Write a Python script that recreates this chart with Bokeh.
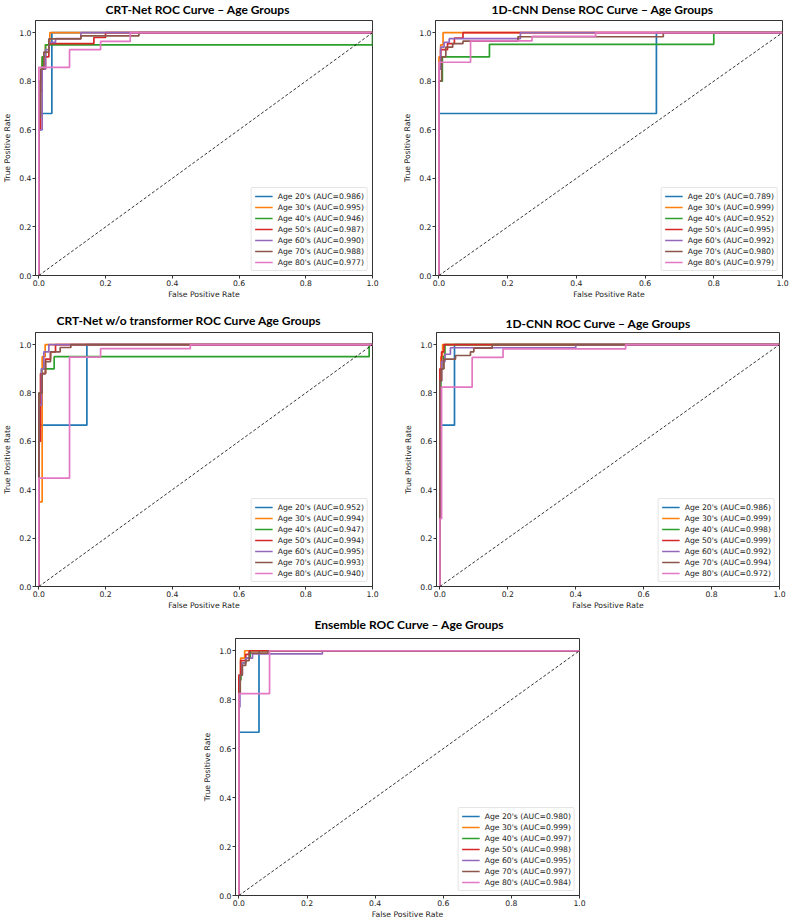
from bokeh.plotting import figure
from bokeh.layouts import column, row
from bokeh.models import (Spacer, Legend, LegendItem, FixedTicker, Range1d,
                          PrintfTickFormatter)
from bokeh.embed import file_html
from bokeh.resources import INLINE

AGE_GROUPS = ["20's", "30's", "40's", "50's", "60's", "70's", "80's"]
COLORS = ["#1f77b4", "#ff7f0e", "#2ca02c", "#d62728", "#9467bd", "#8c564b", "#e377c2"]
TICKS = [0.0, 0.2, 0.4, 0.6, 0.8, 1.0]
DIAG = [0.0, 1.0]

# ---- CRT-Net ----
CRT_TITLE = "CRT-Net ROC Curve – Age Groups"
CRT_AUC = [0.986, 0.995, 0.946, 0.987, 0.990, 0.988, 0.977]
CRT_FPR = [
    [0, 0, 0.039, 1],
    [0, 0, 0.01, 0.02, 0.033, 1],
    [0, 0, 0.004, 0.01, 0.02, 1.0],
    [0, 0, 0.005, 0.01, 0.02, 0.03, 0.165, 0.2, 1],
    [0, 0, 0.01, 0.02, 0.03, 0.05, 0.126, 1],
    [0, 0, 0.005, 0.015, 0.03, 0.126, 0.30, 1],
    [0, 0, 0.092, 0.185, 0.274, 1],
]
CRT_TPR = [
    [0, 0.667, 1.0, 1.0],
    [0, 0.8, 0.9, 0.95, 1.0, 1.0],
    [0, 0.75, 0.8, 0.9, 0.95, 1.0],
    [0, 0.6, 0.76, 0.85, 0.9, 0.955, 0.98, 1.0, 1.0],
    [0, 0.6, 0.85, 0.93, 0.96, 0.975, 1.0, 1.0],
    [0, 0.65, 0.85, 0.92, 0.974, 0.987, 1.0, 1.0],
    [0, 0.857, 0.93, 0.964, 1.0, 1.0],
]

# ---- 1D-CNN Dense ----
DENSE_TITLE = "1D-CNN Dense ROC Curve – Age Groups"
DENSE_AUC = [0.789, 0.999, 0.952, 0.995, 0.992, 0.980, 0.979]
DENSE_FPR = [
    [0, 0, 0.633, 1],
    [0, 0, 0.005, 0.012, 1],
    [0, 0, 0.01, 0.147, 0.80, 1],
    [0, 0, 0.005, 0.025, 0.045, 0.07, 1],
    [0, 0, 0.005, 0.015, 0.03, 0.237, 1],
    [0, 0, 0.008, 0.02, 0.04, 0.07, 0.23, 0.653, 1],
    [0, 0, 0.092, 0.271, 0.456, 1],
]
DENSE_TPR = [
    [0, 0.667, 1.0, 1.0],
    [0, 0.9, 0.95, 1.0, 1.0],
    [0, 0.8, 0.9, 0.952, 1.0, 1.0],
    [0, 0.85, 0.93, 0.955, 0.978, 1.0, 1.0],
    [0, 0.85, 0.94, 0.96, 0.975, 1.0, 1.0],
    [0, 0.8, 0.9, 0.94, 0.955, 0.965, 0.983, 1.0, 1.0],
    [0, 0.878, 0.966, 0.985, 1.0, 1.0],
]

# ---- CRT-Net w/o transformer ----
NOTR_TITLE = "CRT-Net w/o transformer ROC Curve  Age Groups"
NOTR_AUC = [0.952, 0.994, 0.947, 0.994, 0.995, 0.993, 0.940]
NOTR_FPR = [
    [0, 0, 0.144, 1],
    [0, 0, 0.01, 0.019, 1],
    [0, 0, 0.008, 0.046, 0.99, 1],
    [0, 0, 0.005, 0.02, 0.035, 0.05, 1],
    [0, 0, 0.008, 0.015, 0.03, 1],
    [0, 0, 0.01, 0.02, 0.035, 0.064, 0.096, 1],
    [0, 0, 0.092, 0.185, 0.454, 1],
]
NOTR_TPR = [
    [0, 0.667, 1.0, 1.0],
    [0, 0.35, 0.95, 1.0, 1.0],
    [0, 0.8, 0.9, 0.95, 1.0, 1.0],
    [0, 0.6, 0.88, 0.94, 0.97, 1.0, 1.0],
    [0, 0.75, 0.9, 0.97, 1.0, 1.0],
    [0, 0.8, 0.88, 0.93, 0.97, 0.988, 1.0, 1.0],
    [0, 0.448, 0.948, 0.983, 1.0, 1.0],
]

# ---- 1D-CNN ----
CNN_TITLE = "1D-CNN ROC Curve – Age Groups"
CNN_AUC = [0.986, 0.999, 0.998, 0.999, 0.992, 0.994, 0.972]
CNN_FPR = [
    [0, 0, 0.043, 1],
    [0, 0, 0.003, 0.008, 1],
    [0, 0, 0.003, 0.01, 0.015, 1],
    [0, 0, 0.005, 0.012, 1],
    [0, 0, 0.005, 0.015, 0.031, 0.40, 1],
    [0, 0, 0.005, 0.012, 0.046, 0.09, 0.1, 0.154, 1],
    [0, 0, 0.005, 0.095, 0.186, 0.547, 1],
]
CNN_TPR = [
    [0, 0.667, 1.0, 1.0],
    [0, 0.85, 0.95, 1.0, 1.0],
    [0, 0.75, 0.9, 0.95, 1.0, 1.0],
    [0, 0.9, 0.97, 1.0, 1.0],
    [0, 0.85, 0.93, 0.96, 0.987, 1.0, 1.0],
    [0, 0.85, 0.9, 0.94, 0.955, 0.97, 0.985, 1.0, 1.0],
    [0, 0.28, 0.824, 0.947, 0.982, 1.0, 1.0],
]

# ---- Ensemble ----
ENS_TITLE = "Ensemble ROC Curve – Age Groups"
ENS_AUC = [0.980, 0.999, 0.997, 0.998, 0.995, 0.997, 0.984]
ENS_FPR = [
    [0, 0, 0.059, 1],
    [0, 0, 0.005, 0.017, 1],
    [0, 0, 0.006, 0.02, 0.033, 1],
    [0, 0, 0.005, 0.02, 0.03, 1],
    [0, 0, 0.003, 0.01, 0.02, 0.04, 0.245, 1],
    [0, 0, 0.004, 0.01, 0.02, 0.03, 0.085, 1],
    [0, 0, 0.09, 1],
]
ENS_TPR = [
    [0, 0.667, 1.0, 1.0],
    [0, 0.9, 0.97, 1.0, 1.0],
    [0, 0.88, 0.95, 0.97, 1.0, 1.0],
    [0, 0.9, 0.96, 0.985, 1.0, 1.0],
    [0, 0.77, 0.9, 0.95, 0.97, 0.987, 1.0, 1.0],
    [0, 0.83, 0.9, 0.94, 0.96, 0.99, 1.0, 1.0],
    [0, 0.825, 1.0, 1.0],
]

AXIS_COLOR = "#333333"
TEXT_COLOR = "#222222"
SMALL = "7.7px"


def make_panel(title, fpr, tpr, auc, width, height, left, right, top, bottom,
               title_offset, title_standoff):
    p = figure(width=width, height=height,
               x_range=Range1d(-0.01, 1.0), y_range=Range1d(0.0, 1.05),
               output_backend="svg", toolbar_location=None,
               min_border_left=left, min_border_right=right,
               min_border_top=top, min_border_bottom=bottom)
    p.xgrid.visible = False
    p.ygrid.visible = False
    p.outline_line_color = AXIS_COLOR
    p.outline_line_width = 1
    p.background_fill_color = "white"
    p.border_fill_color = "white"

    p.title.text = title
    p.title.align = "left"
    p.title.offset = title_offset
    p.title.vertical_align = "top"
    p.title.standoff = title_standoff
    p.title.text_font = "Lato"
    p.title.text_font_size = "12px"
    p.title.text_font_style = "bold"
    p.title.text_color = "black"

    for ax in (p.xaxis[0], p.yaxis[0]):
        ax.ticker = FixedTicker(ticks=TICKS)
        ax.formatter = PrintfTickFormatter(format="%.1f")
        ax.axis_line_color = AXIS_COLOR
        ax.major_tick_line_color = AXIS_COLOR
        ax.minor_tick_line_color = None
        ax.major_tick_out = 3
        ax.major_tick_in = 0
        ax.major_label_text_font = "DejaVu Sans"
        ax.major_label_text_font_size = SMALL
        ax.major_label_text_color = TEXT_COLOR
        ax.major_label_standoff = 1
        ax.axis_label_text_font = "DejaVu Sans"
        ax.axis_label_text_font_size = SMALL
        ax.axis_label_text_font_style = "normal"
        ax.axis_label_text_color = TEXT_COLOR
    p.xaxis.axis_label = "False Positive Rate"
    p.yaxis.axis_label = "True Positive Rate"
    p.xaxis.axis_label_standoff = 1
    p.yaxis.axis_label_standoff = 4

    items = []
    for i, g in enumerate(AGE_GROUPS):
        r = p.step(fpr[i], tpr[i], mode="after", line_color=COLORS[i], line_width=1.7)
        items.append(LegendItem(label=f"Age {g} (AUC={auc[i]:.3f})", renderers=[r]))

    p.line(DIAG, DIAG, line_color="black", line_dash="3 2", line_width=0.8)

    legend = Legend(items=items, location="bottom_right")
    legend.label_text_font = "DejaVu Sans"
    legend.label_text_font_size = SMALL
    legend.label_text_color = TEXT_COLOR
    legend.glyph_width = 18
    legend.glyph_height = 10
    legend.label_height = 10
    legend.label_standoff = 5
    legend.spacing = 1
    legend.padding = 3
    legend.margin = 4
    legend.border_line_color = "#cccccc"
    legend.border_line_width = 1
    legend.background_fill_alpha = 0.8
    legend.border_radius = 2
    p.add_layout(legend)
    return p


p1 = make_panel(CRT_TITLE, CRT_FPR, CRT_TPR, CRT_AUC, 395, 303, 31, 23, 19, 28, 70, 2.5)
p2 = make_panel(DENSE_TITLE, DENSE_FPR, DENSE_TPR, DENSE_AUC, 394, 303, 40, 7, 19, 25, 56, 2.5)
p3 = make_panel(NOTR_TITLE, NOTR_FPR, NOTR_TPR, NOTR_AUC, 395, 309, 31, 23, 29, 25, 21, 3.6)
p4 = make_panel(CNN_TITLE, CNN_FPR, CNN_TPR, CNN_AUC, 394, 309, 41, 10, 29, 25, 69, 0)
p5 = make_panel(ENS_TITLE, ENS_FPR, ENS_TPR, ENS_AUC, 389, 309, 33, 10, 26, 24, 79, 9)

layout = column(row(p1, p2), row(p3, p4), row(Spacer(width=200, height=309), p5))

open("out.html", "w").write(file_html(layout, INLINE))
